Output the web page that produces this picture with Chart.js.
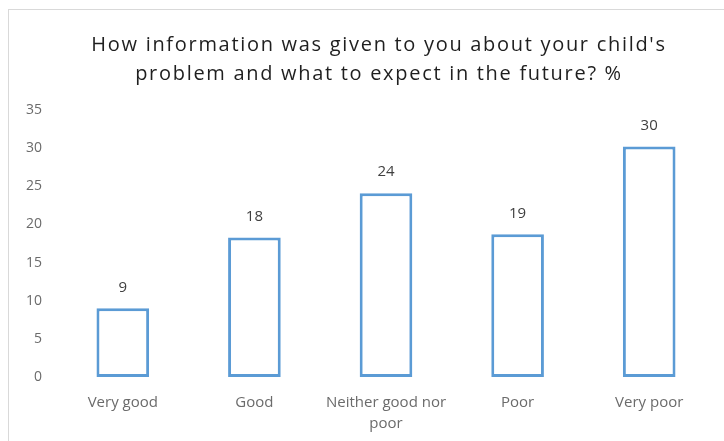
<!DOCTYPE html>
<html>
<head>
<meta charset="utf-8">
<script src="https://cdn.jsdelivr.net/npm/chart.js@4"></script>
<style>
  html, body { margin: 0; padding: 0; background: #fff; overflow: hidden; }
  #box {
    position: absolute;
    left: 8px;
    top: 9px;
    width: 740px;
    height: 440px;
    border: 1px solid #d9d9d9;
    box-sizing: border-box;
  }
  #chart { display: block; }
</style>
</head>
<body>
<div id="box"><canvas id="chart" width="738" height="431"></canvas></div>
<script>
const categories = ["Very good", "Good", ["Neither good nor", "poor"], "Poor", "Very poor"];
const percentValues = [9, 18.3, 24.1, 18.7, 30.2];
const shownLabels = ["9", "18", "24", "19", "30"];
const yTicks = [0, 5, 10, 15, 20, 25, 30, 35];
const titleLines = [
  "How information was given to you about your child's",
  "problem and what to expect in the future? %",
];

const fontName = "'Open Sans', Lato, sans-serif";

// title drawn by hand so it can get the wide letter spacing of the original
const spacedTitle = {
  id: "spacedTitle",
  afterDraw(chart) {
    const ctx = chart.ctx;
    ctx.save();
    ctx.font = "20px " + fontName;
    ctx.letterSpacing = "1.7px";
    ctx.fillStyle = "#1f1f1f";
    ctx.textAlign = "center";
    ctx.textBaseline = "middle";
    titleLines.forEach((line, i) => {
      ctx.fillText(line, 370, 35 + i * 29);
    });
    ctx.restore();
  },
};

// draws the number above each bar
const barLabels = {
  id: "barLabels",
  afterDatasetsDraw(chart) {
    const ctx = chart.ctx;
    const meta = chart.getDatasetMeta(0);
    ctx.save();
    ctx.font = "15px " + fontName;
    ctx.fillStyle = "#404040";
    ctx.textAlign = "center";
    ctx.textBaseline = "middle";
    meta.data.forEach((bar, i) => {
      ctx.fillText(shownLabels[i], bar.x, bar.y - 21);
    });
    ctx.restore();
  },
};

const ctx = document.getElementById("chart").getContext("2d");
new Chart(ctx, {
  type: "bar",
  data: {
    labels: categories,
    datasets: [
      {
        data: percentValues,
        backgroundColor: "#ffffff",
        borderColor: "#5b9bd5",
        borderWidth: 3,
        borderSkipped: false,
        barPercentage: 0.4,
        categoryPercentage: 1,
      },
    ],
  },
  options: {
    responsive: false,
    animation: false,
    layout: { padding: { top: 100, right: 32, bottom: 4, left: 0 } },
    plugins: {
      legend: { display: false },
      tooltip: { enabled: false },
      title: { display: false },
    },
    scales: {
      x: {
        grid: { display: false, drawTicks: false },
        border: { display: false },
        ticks: {
          color: "#6b6b6b",
          font: { family: fontName, size: 15, lineHeight: 1.4 },
          padding: 15,
          maxRotation: 0,
        },
        afterFit(scale) {
          scale.height = 60;
        },
      },
      y: {
        min: 0,
        max: 35,
        grid: { display: false, drawTicks: false },
        border: { display: false },
        afterBuildTicks(scale) {
          scale.ticks = yTicks.map((v) => ({ value: v }));
        },
        ticks: {
          color: "#6b6b6b",
          font: { family: fontName, size: 14 },
          padding: 15,
        },
        afterFit(scale) {
          scale.width = 48;
        },
      },
    },
  },
  plugins: [barLabels, spacedTitle],
});
</script>
</body>
</html>
